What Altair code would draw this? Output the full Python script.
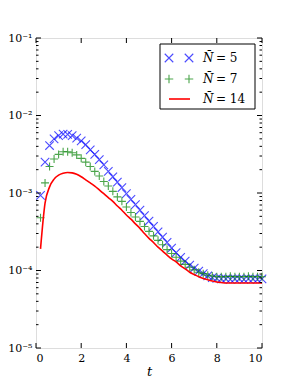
import altair as alt
import pandas as pd

# ---- data ----
t = [0.2, 0.4, 0.6, 0.8, 1.0, 1.2, 1.4, 1.6, 1.8, 2.0,
     2.2, 2.4, 2.6, 2.8, 3.0, 3.2, 3.4, 3.6, 3.8, 4.0,
     4.2, 4.4, 4.6, 4.8, 5.0, 5.2, 5.4, 5.6, 5.8, 6.0,
     6.2, 6.4, 6.6, 6.8, 7.0, 7.2, 7.4, 7.6, 7.8, 8.0,
     8.2, 8.4, 8.6, 8.8, 9.0, 9.2, 9.4, 9.6, 9.8, 10.0]

n5 = [9.3e-4, 2.5e-3, 4.1e-3, 5.0e-3, 5.5e-3, 5.75e-3, 5.7e-3, 5.5e-3, 5.1e-3, 4.7e-3,
      4.2e-3, 3.6e-3, 3.15e-3, 2.7e-3, 2.3e-3, 1.9e-3, 1.62e-3, 1.38e-3, 1.17e-3, 9.8e-4,
      8.3e-4, 7.1e-4, 6.0e-4, 5.1e-4, 4.35e-4, 3.7e-4, 3.15e-4, 2.7e-4, 2.3e-4, 1.95e-4,
      1.7e-4, 1.48e-4, 1.32e-4, 1.17e-4, 1.07e-4, 9.8e-5, 9.1e-5, 8.5e-5, 8.1e-5, 7.9e-5,
      7.8e-5, 7.8e-5, 7.7e-5, 7.8e-5, 7.8e-5, 7.7e-5, 7.8e-5, 7.8e-5, 7.7e-5, 7.8e-5]

n7 = [4.8e-4, 1.35e-3, 2.2e-3, 2.75e-3, 3.15e-3, 3.4e-3, 3.4e-3, 3.3e-3, 3.1e-3, 2.8e-3,
      2.5e-3, 2.2e-3, 1.9e-3, 1.66e-3, 1.41e-3, 1.23e-3, 1.05e-3, 8.9e-4, 7.8e-4, 6.6e-4,
      5.6e-4, 4.9e-4, 4.3e-4, 3.7e-4, 3.2e-4, 2.8e-4, 2.45e-4, 2.15e-4, 1.86e-4, 1.66e-4,
      1.48e-4, 1.32e-4, 1.2e-4, 1.1e-4, 1.02e-4, 9.5e-5, 9.1e-5, 8.7e-5, 8.5e-5, 8.3e-5,
      8.3e-5, 8.3e-5, 8.4e-5, 8.3e-5, 8.3e-5, 8.3e-5, 8.4e-5, 8.3e-5, 8.3e-5, 8.3e-5]

n14 = [1.9e-4, 7.4e-4, 1.2e-3, 1.51e-3, 1.7e-3, 1.8e-3, 1.84e-3, 1.82e-3, 1.74e-3, 1.62e-3,
       1.48e-3, 1.35e-3, 1.23e-3, 1.1e-3, 9.8e-4, 8.7e-4, 7.8e-4, 6.8e-4, 6.0e-4, 5.2e-4,
       4.6e-4, 4.0e-4, 3.5e-4, 3.0e-4, 2.6e-4, 2.3e-4, 2.0e-4, 1.78e-4, 1.58e-4, 1.41e-4,
       1.29e-4, 1.15e-4, 1.05e-4, 9.5e-5, 8.9e-5, 8.3e-5, 7.9e-5, 7.6e-5, 7.3e-5, 7.1e-5,
       7.0e-5, 6.9e-5, 6.9e-5, 6.9e-5, 6.9e-5, 6.9e-5, 6.9e-5, 6.9e-5, 6.9e-5, 6.9e-5]

legend_labels = ["= 5", "= 7", "= 14"]
x_ticks = [0, 2, 4, 6, 8, 10]
y_ticks = [1e-5, 1e-4, 1e-3, 1e-2, 1e-1]
y_tick_labels = ["10⁻⁵", "10⁻⁴", "10⁻³", "10⁻²", "10⁻¹"]

# ---- layout ----
W, H = 226, 310
SERIF = "DejaVu Serif, Liberation Serif, serif"
BLUE, GREEN, RED = "#0000ff", "#008000", "#ff0000"
X_PATH = "M-1,-1L1,1M-1,1L1,-1"
P_PATH = "M-1,0L1,0M0,-1L0,1"

xs = alt.Scale(domain=[0, 10], nice=False, zero=False)
ys = alt.Scale(type="log", domain=[1e-5, 1e-1], nice=False)

label_expr = "[" + ",".join("'%s'" % s for s in y_tick_labels) + "][round(log(datum.value)/LN10)+5]"

ax_x = alt.Axis(values=x_ticks, ticks=False, tickSize=0, domain=False, grid=False,
                labelFont=SERIF, labelFontSize=11, labelPadding=4, labelColor="black",
                title="t", titleFont=SERIF, titleFontStyle="italic", titleFontWeight="normal",
                titleFontSize=13, titlePadding=2, titleColor="black")
ax_y = alt.Axis(values=y_ticks, ticks=False, tickSize=0, domain=False, grid=False,
                labelExpr=label_expr, labelFont=SERIF, labelFontSize=11,
                labelPadding=4, labelColor="black", title="")

def X(f):
    return alt.X(f, scale=xs, axis=ax_x)

def Y(f):
    return alt.Y(f, scale=ys, axis=ax_y)

df = pd.DataFrame({"t": t, "n5": n5, "n7": n7, "n14": n14})
base = alt.Chart(df)

blue = base.mark_point(shape=X_PATH, filled=False, color=BLUE, strokeWidth=1.1, size=72).encode(
    x=X("t:Q"), y=Y("n5:Q"))
green = base.mark_point(shape=P_PATH, filled=False, color=GREEN, strokeWidth=1.1, size=64).encode(
    x=X("t:Q"), y=Y("n7:Q"))
red = base.mark_line(color=RED, strokeWidth=1.6, interpolate="monotone").encode(
    x=X("t:Q"), y=Y("n14:Q"))

# ---- inward ticks (matplotlib style) ----
xt = pd.DataFrame({"t": x_ticks})
yt = pd.DataFrame({"n5": y_ticks})
minor = pd.DataFrame({"n5": [m * 10.0 ** k for k in range(-5, -1) for m in range(2, 10)]})

def xtick(y0, y1):
    return alt.Chart(xt).mark_rule(color="black", strokeWidth=1).encode(
        x=X("t:Q"), y=alt.value(y0), y2=alt.value(y1))

def ytick(d, x0, x1):
    return alt.Chart(d).mark_rule(color="black", strokeWidth=1).encode(
        y=Y("n5:Q"), x=alt.value(x0), x2=alt.value(x1))

ticks = [xtick(H, H - 5), xtick(0, 5),
         ytick(yt, 0, 5), ytick(yt, W, W - 5),
         ytick(minor, 0, 2.5), ytick(minor, W, W - 2.5)]

# ---- legend ----
one = pd.DataFrame({"a": [0]})
LX0, LX1, LY0, LY1 = 124, 219, 6, 71
leg = [alt.Chart(one).mark_rect(fill="white", stroke="black", strokeWidth=1).encode(
    x=alt.value(LX0), x2=alt.value(LX1), y=alt.value(LY0), y2=alt.value(LY1))]
row_y = [20, 41, 61]
styles = [("x", BLUE), ("p", GREEN), ("l", RED)]
for i, lab in enumerate(legend_labels):
    kind, col = styles[i]
    yy = row_y[i]
    if kind == "l":
        leg.append(alt.Chart(one).mark_rule(color=col, strokeWidth=1.6).encode(
            x=alt.value(133), x2=alt.value(154), y=alt.value(yy)))
    else:
        for xx in (133, 153):
            leg.append(alt.Chart(one).mark_point(
                shape=X_PATH if kind == "x" else P_PATH, filled=False, color=col,
                strokeWidth=1.1, size=72).encode(x=alt.value(xx), y=alt.value(yy)))
    leg.append(alt.Chart(one).mark_text(text="N̄", font=SERIF, fontStyle="italic", fontSize=12,
                                        align="left", baseline="middle", color="black").encode(
        x=alt.value(167), y=alt.value(yy)))
    leg.append(alt.Chart(one).mark_text(text=lab, font=SERIF, fontSize=12,
                                        align="left", baseline="middle", color="black").encode(
        x=alt.value(180), y=alt.value(yy)))

chart = alt.layer(blue, green, red, *ticks, *leg).properties(
    width=W, height=H,
    autosize=alt.AutoSizeParams(type="none"),
    padding={"left": 28, "top": 30, "right": 21, "bottom": 32},
).configure_view(stroke="black", strokeWidth=1.3).configure(background="white")

chart.save("out.html", embed_options={"renderer": "svg", "actions": False})
